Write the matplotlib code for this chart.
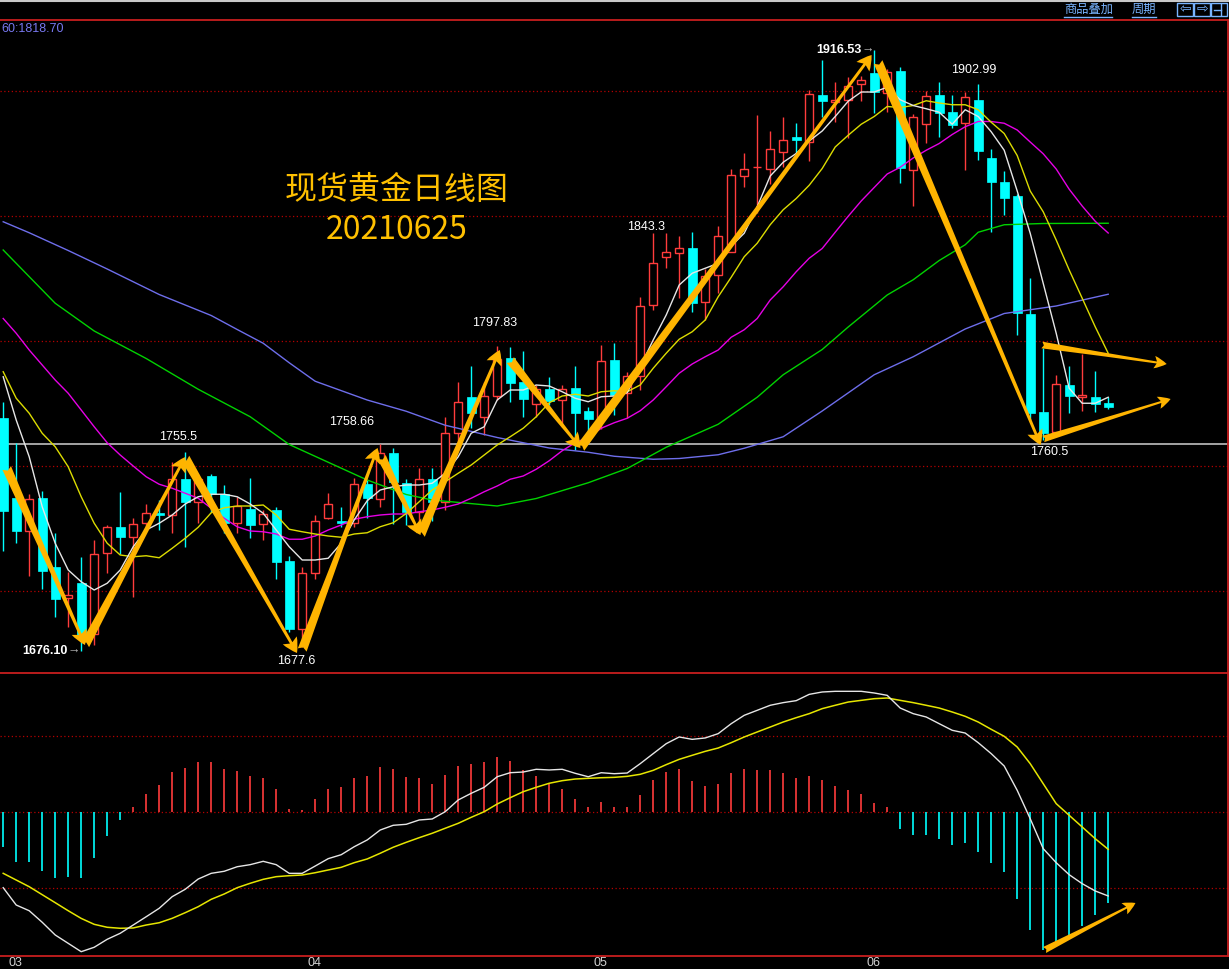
import matplotlib
matplotlib.use("Agg")
import matplotlib.pyplot as plt
from matplotlib.patches import Rectangle
from matplotlib.lines import Line2D
from matplotlib.transforms import blended_transform_factory

plt.rcParams['font.family'] = ['Liberation Sans', 'Noto Sans CJK SC', 'DejaVu Sans']

## Tageskerzen (Maerz - Juni 2021)
opens = [1769.1, 1737.1, 1724.0, 1737.1, 1709.5, 1697.1, 1703.1, 1682.7, 1715.1, 1725.7,
         1721.5, 1727.1, 1731.3, 1730.4, 1744.7, 1735.7, 1746.0, 1738.8, 1727.3, 1732.7,
         1726.7, 1732.4, 1712.0, 1684.7, 1707.1, 1729.1, 1728.0, 1727.1, 1742.7, 1736.7,
         1755.1, 1743.1, 1731.7, 1744.7, 1735.7, 1763.1, 1777.5, 1769.7, 1778.1, 1793.1,
         1783.5, 1774.7, 1780.7, 1776.4, 1781.1, 1772.0, 1768.7, 1792.4, 1779.1, 1786.1,
         1814.4, 1833.5, 1835.1, 1837.1, 1815.5, 1826.3, 1835.7, 1866.1, 1869.5, 1868.9,
         1875.5, 1881.6, 1879.5, 1898.4, 1895.7, 1896.4, 1903.0, 1907.3, 1899.2, 1908.0,
         1868.6, 1886.7, 1898.3, 1891.8, 1887.3, 1896.3, 1873.2, 1863.7, 1857.8, 1810.7,
         1771.7, 1763.5, 1782.4, 1777.5, 1777.5, 1775.1]
highs = [1775.7, 1759.1, 1738.8, 1740.0, 1723.1, 1707.7, 1713.7, 1720.4, 1726.4, 1739.5,
         1729.1, 1734.8, 1736.4, 1751.7, 1755.5, 1746.8, 1746.8, 1742.4, 1737.7, 1745.1,
         1732.4, 1733.7, 1714.0, 1709.7, 1730.4, 1739.1, 1733.7, 1745.1, 1744.4, 1758.66,
         1757.3, 1745.0, 1749.1, 1749.3, 1769.5, 1783.5, 1790.1, 1783.7, 1797.83, 1797.7,
         1796.0, 1782.4, 1785.7, 1782.4, 1790.1, 1773.7, 1798.4, 1799.1, 1787.7, 1817.7,
         1843.3, 1843.1, 1842.0, 1843.5, 1828.8, 1846.0, 1868.7, 1875.3, 1890.4, 1884.0,
         1889.5, 1887.1, 1900.4, 1912.3, 1903.6, 1905.6, 1906.0, 1916.53, 1908.7, 1909.6,
         1891.0, 1900.2, 1903.6, 1898.6, 1899.6, 1902.99, 1876.9, 1868.2, 1859.0, 1825.1,
         1797.1, 1786.4, 1790.0, 1794.8, 1788.0, 1777.5]
lows = [1716.1, 1719.1, 1706.1, 1700.8, 1689.7, 1685.7, 1676.1, 1678.4, 1707.1, 1714.8,
        1697.7, 1724.7, 1724.4, 1723.3, 1717.7, 1727.1, 1731.7, 1723.1, 1723.1, 1721.1,
        1720.4, 1704.7, 1683.5, 1677.6, 1704.7, 1728.7, 1725.7, 1725.7, 1729.1, 1733.7,
        1726.7, 1726.4, 1728.0, 1728.0, 1732.4, 1759.7, 1765.1, 1762.4, 1776.4, 1775.7,
        1769.7, 1769.7, 1774.4, 1765.7, 1756.4, 1763.1, 1764.7, 1770.4, 1769.1, 1780.4,
        1812.4, 1829.1, 1817.1, 1811.7, 1808.4, 1819.1, 1835.5, 1861.7, 1851.1, 1862.7,
        1869.7, 1875.1, 1872.1, 1889.7, 1887.7, 1881.1, 1895.9, 1891.1, 1891.8, 1863.2,
        1854.0, 1879.4, 1881.7, 1885.1, 1868.6, 1872.5, 1843.5, 1850.4, 1802.4, 1768.4,
        1760.5, 1763.5, 1771.1, 1772.1, 1771.7, 1772.7]
closes = [1732.0, 1724.0, 1736.7, 1708.1, 1696.7, 1698.4, 1682.4, 1714.7, 1725.7, 1721.7,
          1726.7, 1731.1, 1730.3, 1744.7, 1735.7, 1744.7, 1738.8, 1727.3, 1734.0, 1726.4,
          1730.8, 1711.5, 1684.7, 1707.1, 1728.0, 1734.8, 1727.3, 1742.7, 1737.1, 1755.1,
          1743.7, 1731.7, 1744.7, 1735.7, 1763.1, 1775.5, 1771.1, 1778.1, 1792.7, 1783.1,
          1776.8, 1780.7, 1776.0, 1780.9, 1771.3, 1768.7, 1792.1, 1778.4, 1786.1, 1814.1,
          1831.1, 1835.5, 1837.1, 1815.1, 1826.0, 1842.0, 1866.4, 1868.7, 1869.7, 1876.7,
          1880.4, 1880.4, 1898.8, 1896.1, 1896.4, 1902.2, 1904.6, 1899.6, 1907.6, 1869.2,
          1889.4, 1898.2, 1891.1, 1886.4, 1897.5, 1875.9, 1863.7, 1857.1, 1811.1, 1771.3,
          1763.1, 1782.7, 1778.1, 1778.3, 1774.7, 1773.7]

## Gleitende Durchschnitte
ma5 = [1785.7, 1768.4, 1753.7, 1733.7, 1719.1, 1708.4, 1703.7, 1700.4, 1703.1, 1708.4,
       1717.7, 1724.4, 1727.1, 1730.4, 1734.8, 1737.7, 1738.7, 1738.7, 1737.7, 1734.8,
       1731.1, 1724.4, 1717.7, 1712.4, 1712.4, 1713.1, 1719.1, 1728.4, 1736.1, 1740.4,
       1741.7, 1742.4, 1742.4, 1743.1, 1747.1, 1753.7, 1763.1, 1765.7, 1776.4, 1780.4,
       1780.4, 1782.4, 1782.0, 1779.7, 1777.1, 1775.7, 1777.7, 1778.0, 1779.3, 1789.7,
       1800.4, 1810.4, 1822.4, 1827.1, 1829.1, 1831.1, 1838.0, 1843.1, 1853.7, 1866.0,
       1871.5, 1875.0, 1880.0, 1884.0, 1889.8, 1895.9, 1899.6, 1899.6, 1901.5, 1896.5,
       1894.2, 1892.9, 1891.5, 1886.7, 1892.5, 1889.8, 1883.7, 1876.3, 1860.0, 1843.1,
       1823.1, 1803.1, 1781.1, 1775.1, 1775.1, 1777.5]
ma10 = [1787.7, 1777.1, 1771.1, 1763.1, 1757.7, 1749.7, 1737.7, 1727.1, 1719.1, 1714.4,
        1713.7, 1714.1, 1713.3, 1717.1, 1721.1, 1725.5, 1731.3, 1733.3, 1734.0, 1734.0,
        1734.4, 1730.4, 1724.7, 1723.7, 1722.8, 1722.0, 1721.5, 1722.8, 1723.3, 1725.7,
        1727.3, 1731.0, 1735.7, 1740.4, 1743.7, 1747.1, 1750.4, 1754.4, 1758.4, 1761.7,
        1765.1, 1769.7, 1775.3, 1778.0, 1778.7, 1778.0, 1779.7, 1780.1, 1779.7, 1782.4,
        1789.1, 1795.1, 1800.7, 1803.7, 1808.4, 1817.7, 1825.5, 1833.7, 1839.1, 1846.5,
        1852.5, 1857.0, 1862.3, 1869.0, 1877.6, 1882.3, 1886.7, 1889.8, 1893.8, 1893.4,
        1894.2, 1896.1, 1895.2, 1894.5, 1894.5, 1892.5, 1887.5, 1883.0, 1874.2, 1860.0,
        1851.7, 1840.4, 1828.4, 1817.1, 1805.7, 1795.1]
ma20 = [1809.0, 1803.1, 1796.4, 1790.4, 1784.4, 1779.1, 1772.4, 1765.7, 1759.3, 1754.4,
        1750.0, 1745.7, 1742.7, 1741.1, 1739.1, 1737.1, 1733.1, 1729.1, 1725.7, 1724.0,
        1723.7, 1722.8, 1720.7, 1720.7, 1722.0, 1724.4, 1726.4, 1728.7, 1729.7, 1730.4,
        1730.8, 1730.8, 1731.7, 1732.4, 1733.5, 1734.8, 1737.1, 1739.7, 1742.0, 1744.7,
        1746.0, 1748.7, 1752.1, 1756.1, 1759.3, 1761.5, 1765.1, 1767.3, 1769.1, 1772.1,
        1776.4, 1781.7, 1787.1, 1790.8, 1793.7, 1796.4, 1801.5, 1804.5, 1809.0, 1816.4,
        1821.7, 1827.7, 1833.1, 1837.0, 1843.5, 1849.9, 1856.0, 1861.4, 1866.8, 1869.5,
        1873.2, 1876.3, 1879.0, 1882.6, 1885.7, 1887.8, 1887.8, 1887.1, 1884.4, 1879.6,
        1874.9, 1868.8, 1860.7, 1854.0, 1847.9, 1843.2]
ma40_idx = [0, 4, 7, 11, 15, 19, 22, 25, 28, 31, 33, 38, 41, 45, 48, 51, 55, 58, 60, 63,
            65, 68, 70, 72, 74, 75, 77, 80, 85]
ma40 = [1836.4, 1815.1, 1804.0, 1793.0, 1780.7, 1769.7, 1758.6, 1751.5, 1744.4, 1738.6,
        1736.4, 1734.0, 1737.0, 1743.3, 1749.0, 1757.5, 1766.7, 1777.5, 1786.5, 1796.6,
        1805.6, 1818.4, 1824.5, 1832.2, 1838.5, 1843.5, 1846.5, 1847.0, 1847.1]
ma60_idx = [0, 2, 5, 8, 12, 16, 18, 20, 22, 24, 28, 31, 34, 38, 42, 45, 47, 50, 52, 55,
            57, 60, 63, 67, 70, 74, 77, 81, 85]
ma60 = [1847.7, 1843.3, 1836.2, 1828.8, 1818.6, 1810.2, 1804.6, 1799.1, 1791.3, 1783.9,
        1776.4, 1771.9, 1766.3, 1761.4, 1757.2, 1755.5, 1753.9, 1752.7, 1753.0, 1754.5,
        1757.1, 1761.7, 1772.0, 1786.5, 1793.7, 1804.8, 1811.0, 1814.0, 1818.7]

## MACD
macd_hist = [-4.56, -6.54, -6.54, -7.72, -8.64, -8.51, -8.64, -6.01, -3.11, -1.05,
             0.70, 2.37, 3.55, 5.26, 5.83, 6.62, 6.62, 5.66, 5.39, 4.74,
             4.47, 3.03, 0.39, 0.26, 1.71, 3.03, 3.29, 4.47, 4.74, 5.92,
             5.66, 4.61, 4.47, 3.68, 4.87, 6.05, 6.32, 6.58, 7.24, 6.71,
             5.53, 4.74, 3.68, 3.03, 1.71, 0.70, 1.32, 0.66, 0.66, 2.19,
             4.21, 5.26, 5.66, 4.08, 3.42, 3.68, 5.13, 5.66, 5.53, 5.53,
             5.13, 4.47, 4.74, 4.21, 3.42, 2.89, 2.37, 1.18, 0.66, -2.19,
             -3.03, -3.03, -3.51, -4.30, -4.04, -5.22, -6.71, -7.89, -11.4, -15.57,
             -18.11, -17.46, -16.36, -15.04, -13.6, -11.93]
dif = [-9.96, -12.24, -12.99, -14.51, -16.18, -17.28, -18.38, -17.80, -16.75, -15.96,
       -14.87, -13.78, -12.67, -11.14, -10.17, -8.82, -8.07, -7.80, -7.20, -6.93,
       -6.49, -6.93, -8.07, -8.07, -7.11, -6.14, -5.62, -4.57, -3.68, -2.37,
       -1.75, -1.62, -1.05, -0.92, 0.04, 1.58, 2.46, 3.25, 4.64, 5.17,
       5.26, 5.62, 5.53, 5.62, 5.09, 4.64, 5.17, 5.04, 5.13, 6.36,
       7.68, 8.99, 9.87, 9.56, 9.74, 10.31, 11.62, 12.72, 13.38, 14.04,
       14.39, 14.65, 15.48, 15.79, 15.88, 15.88, 15.88, 15.66, 15.35, 13.68,
       12.94, 12.5, 11.62, 10.75, 10.39, 9.12, 7.68, 6.05, 2.85, -0.88,
       -4.82, -6.67, -8.25, -9.43, -10.39, -11.05]
dea = [-8.07, -8.95, -9.83, -10.88, -11.93, -12.99, -14.0, -14.78, -15.17, -15.30,
       -15.26, -14.87, -14.57, -13.99, -13.25, -12.46, -11.49, -10.79, -9.96, -9.38,
       -8.86, -8.51, -8.38, -8.29, -7.99, -7.63, -7.28, -6.67, -6.18, -5.43,
       -4.64, -3.99, -3.38, -2.80, -2.14, -1.49, -0.70, 0.04, 1.05, 1.88,
       2.67, 3.25, 3.78, 4.12, 4.34, 4.43, 4.51, 4.56, 4.69, 4.96,
       5.48, 6.23, 6.93, 7.46, 7.98, 8.42, 9.12, 9.87, 10.53, 11.18,
       11.84, 12.41, 12.94, 13.6, 14.04, 14.47, 14.69, 14.91, 15.0, 14.69,
       14.39, 14.04, 13.68, 13.16, 12.59, 11.84, 10.88, 9.96, 8.55, 6.36,
       3.73, 1.10, -0.44, -1.97, -3.51, -4.91]

month_idx = [0, 23, 45, 66]
month_labels = ['03', '04', '05', '06']

resistance = 1758.66
ma60_last = 1818.70

# Beschriftete Hoch-/Tiefpunkte
peak_idx = [14, 29, 38, 50, 75]
trough_idx = [23, 80]
auto_high_idx = 67
auto_low_idx = 6

# Handgezeichnete Pfeile (Index, Preis)
zigzag = [((0.27, 1749.2), (6.29, 1678.4)), ((6.29, 1678.4), (14.0, 1753.6)),
          ((14.0, 1753.2), (22.6, 1675.2)), ((23.0, 1676.4), (28.8, 1757.2)),
          ((29.1, 1753.6), (32.1, 1722.4)), ((32.1, 1722.4), (38.2, 1796.4)),
          ((39.0, 1792.4), (44.4, 1757.2)), ((44.4, 1757.2), (66.8, 1914.4)),
          ((67.3, 1911.6), (79.8, 1758.4))]
wedge = [((79.9, 1798.4), (89.5, 1790.8)), ((80.0, 1760.8), (89.8, 1776.8))]
macd_arrow = ((80.1, -18.16), (87.1, -11.97))

UP = '#FF3C3C'
DOWN = '#00FFFF'
GOLD = '#FFB400'
GRID = '#B40000'
BORDER = '#C81E1E'

W, H = 1229, 969
fig = plt.figure(figsize=(W / 100, H / 100), dpi=100, facecolor='black')


def fx(px):
    return px / W


def fy(py):
    return 1 - py / H


ax = fig.add_axes([0, fy(672), 1, (672 - 19) / H], facecolor='black')
ax2 = fig.add_axes([0, fy(955), 1, (955 - 672) / H], facecolor='black')
for a in (ax, ax2):
    a.set_xlim(-3.2 / 13, (W - 3.2) / 13)
    a.set_xticks([])
    a.set_yticks([])
    for s in a.spines.values():
        s.set_visible(False)
ax.set_ylim(1667.6, 1928.8)
ax2.set_ylim(-18.816, 18.421)

# Gitterlinien
for p in [1900, 1850, 1800, 1750, 1700]:
    ax.axhline(p, color=GRID, lw=0.9, ls=(0, (1, 2)), zorder=1)
for v in [10, 0, -10]:
    ax2.axhline(v, color=GRID, lw=0.9, ls=(0, (1, 2)), zorder=1)
ax.axhline(resistance, color='#D0D0D0', lw=1.1, zorder=1.5)

# Kerzen
n = len(opens)
xs = list(range(n))
for i in range(n):
    o, h, l, c = opens[i], highs[i], lows[i], closes[i]
    if c >= o:
        ax.vlines(i, max(o, c), h, color=UP, lw=1, zorder=2)
        ax.vlines(i, l, min(o, c), color=UP, lw=1, zorder=2)
        ax.add_patch(Rectangle((i - 0.33, o), 0.66, c - o, facecolor='black',
                               edgecolor=UP, lw=1, zorder=2))
    else:
        ax.vlines(i, l, h, color=DOWN, lw=1, zorder=2)
        ax.add_patch(Rectangle((i - 0.35, c), 0.7, o - c, facecolor=DOWN,
                               edgecolor=DOWN, lw=0.5, zorder=2))

# Durchschnittslinien ueber den Kerzen
ax.plot(ma60_idx, ma60, color='#6E6EEB', lw=1, zorder=3)
ax.plot(ma40_idx, ma40, color='#00D200', lw=1, zorder=3)
ax.plot(xs, ma20, color='#E600E6', lw=1, zorder=3)
ax.plot(xs, ma10, color='#DCDC00', lw=1, zorder=3)
ax.plot(xs, ma5, color='#E6E6E6', lw=1, zorder=3)

# Beschriftungen
lbl = dict(color='white', fontsize=9, textcoords='offset pixels', ha='center', va='center', zorder=6)
peak_off = [(-7, 15), (-29, 22), (-3, 23), (-7, 6), (-4, 14)]
for i, (dx, dy) in zip(peak_idx, peak_off):
    ax.annotate(f'{highs[i]:g}', xy=(i, highs[i]), xytext=(dx, dy), **lbl)
trough_off = [(-6, -14), (6, -12)]
for i, (dx, dy) in zip(trough_idx, trough_off):
    ax.annotate(f'{lows[i]:g}', xy=(i, lows[i]), xytext=(dx, dy), **lbl)

ax.annotate(f'{highs[auto_high_idx]:.2f}', xy=(auto_high_idx, highs[auto_high_idx]), xytext=(-13, 0),
            textcoords='offset pixels', ha='right', va='center', color='white',
            fontsize=9, fontweight='bold', zorder=6)
ax.annotate('→', xy=(auto_high_idx, highs[auto_high_idx]), xytext=(-13, 0),
            textcoords='offset pixels', ha='left', va='center', color='#B4B4B4', fontsize=9, zorder=6)
ax.annotate(f'{lows[auto_low_idx]:.2f}', xy=(auto_low_idx, lows[auto_low_idx]), xytext=(-14, 0),
            textcoords='offset pixels', ha='right', va='center', color='white',
            fontsize=9, fontweight='bold', zorder=6)
ax.annotate('→', xy=(auto_low_idx, lows[auto_low_idx]), xytext=(-14, 0),
            textcoords='offset pixels', ha='left', va='center', color='#B4B4B4', fontsize=9, zorder=6)

# Titel
ax.text(0.3228, 0.738, '现货黄金日线图', transform=ax.transAxes, ha='center', va='center',
        fontsize=23, color='#FFC000', family=['Noto Sans CJK SC'], zorder=6)
ax.text(0.3228, 0.677, '20210625', transform=ax.transAxes, ha='center', va='center',
        fontsize=23, color='#FFC000', family=['Noto Sans CJK SC'], zorder=6)

# Pfeile
for start, end in zigzag:
    ax.annotate('', xy=end, xytext=start, zorder=7,
                arrowprops=dict(arrowstyle='fancy,head_length=0.5,head_width=0.55,tail_width=0.32',
                                fc=GOLD, ec='none', mutation_scale=21, shrinkA=0, shrinkB=0))
for start, end in wedge:
    ax.annotate('', xy=end, xytext=start, zorder=7,
                arrowprops=dict(arrowstyle='fancy,head_length=0.6,head_width=0.6,tail_width=0.32',
                                fc=GOLD, ec='none', mutation_scale=15, shrinkA=0, shrinkB=0))

# MACD
ax2.vlines(xs, 0, macd_hist, colors=[UP if v >= 0 else DOWN for v in macd_hist], lw=1.2, zorder=2)
ax2.plot(xs, dea, color='#E6E600', lw=1.1, zorder=3)
ax2.plot(xs, dif, color='#E6E6E6', lw=1, zorder=3)
ax2.annotate('', xy=macd_arrow[1], xytext=macd_arrow[0], zorder=7,
             arrowprops=dict(arrowstyle='fancy,head_length=0.6,head_width=0.6,tail_width=0.32',
                             fc=GOLD, ec='none', mutation_scale=15, shrinkA=0, shrinkB=0))

tr = blended_transform_factory(ax2.transData, ax2.transAxes)
for i, t in zip(month_idx, month_labels):
    ax2.annotate(t, xy=(i, 0), xycoords=tr, xytext=(5, -8), textcoords='offset pixels',
                 ha='left', va='center', color='#D2D2D2', fontsize=9, annotation_clip=False)

# Rahmen
for py in [19.5, 672.5, 955.5]:
    fig.add_artist(Line2D([0, 1], [fy(py), fy(py)], transform=fig.transFigure, color=BORDER, lw=1.3))
fig.add_artist(Line2D([fx(1227.5), fx(1227.5)], [fy(19.5), fy(955.5)], transform=fig.transFigure,
                      color=BORDER, lw=1.3))
fig.add_artist(Line2D([0, 1], [fy(0.7), fy(0.7)], transform=fig.transFigure, color='#C8C8C8', lw=1.5))

# Kopfzeile
fig.text(fx(1), fy(29), f'60:{ma60_last:.2f}', color='#7878F0', fontsize=9, ha='left', va='center')
MENU = '#78B4FF'
for txt, x0, x1 in [('商品叠加', 1064, 1112), ('周期', 1132, 1156)]:
    fig.text(fx(x0), fy(9.5), txt, color=MENU, fontsize=8.8, ha='left', va='center',
             family=['Noto Sans CJK SC'])
    fig.add_artist(Line2D([fx(x0), fx(x1)], [fy(17), fy(17)], transform=fig.transFigure, color=MENU, lw=1))
for k, g in enumerate(['⇦', '⇨', '']):
    x0 = 1177 + 17 * k
    fig.add_artist(Rectangle((fx(x0), fy(16)), 16 / W, 13 / H, transform=fig.transFigure,
                             fill=False, edgecolor=MENU, lw=1))
    if g:
        fig.text(fx(x0 + 8), fy(9.5), g, color=MENU, fontsize=10, ha='center', va='center',
                 family=['DejaVu Sans'])
fig.add_artist(Line2D([fx(1221), fx(1221)], [fy(4), fy(15)], transform=fig.transFigure, color=MENU, lw=1))
fig.add_artist(Line2D([fx(1214), fx(1221)], [fy(9.5), fy(9.5)], transform=fig.transFigure, color=MENU, lw=1))

fig.savefig('out.png', dpi=100, facecolor='black')
